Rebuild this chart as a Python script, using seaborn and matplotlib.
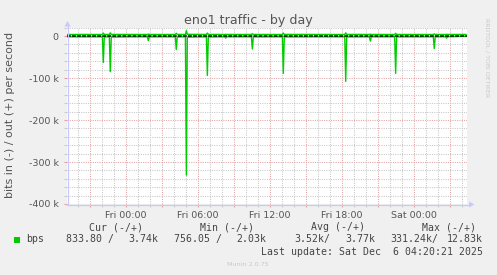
import matplotlib
matplotlib.use("Agg")
import matplotlib.pyplot as plt
import pandas as pd
import seaborn as sns
from matplotlib.ticker import MultipleLocator, FixedLocator, FixedFormatter
from matplotlib.patches import Polygon, Rectangle
from matplotlib.lines import Line2D

# ---------------- data ----------------
title = "eno1 traffic - by day"
ylabel = "bits in (-) / out (+) per second"
xtick_hours = [0, 6, 12, 18, 24]
xtick_labels = ["Fri 00:00", "Fri 06:00", "Fri 12:00", "Fri 18:00", "Sat 00:00"]
ytick_values = [0, -100000, -200000, -300000, -400000]
ytick_labels = ["0", "-100 k", "-200 k", "-300 k", "-400 k"]

# hours relative to Fri 00:00
hours = [-4.92, -3.5, -1.97, -1.89, -1.81, -1.39, -1.31, -1.23, 0.2, 1.78,
         1.86, 1.94, 3.0, 4.11, 4.19, 4.27, 4.95, 5.03, 5.11, 6.70,
         6.78, 6.86, 8.23, 8.31, 8.39, 10.45, 10.53, 10.61, 13.03, 13.11,
         13.19, 16.0, 18.23, 18.31, 18.39, 20.28, 20.36, 20.44, 22.39, 22.47,
         22.55, 25.61, 25.69, 25.77, 26.64, 26.72, 26.80, 28.33]
# input (drawn negative), bits per second
in_bps = [-2000, -2100, -2000, -63000, -2400, -2000, -85000, -2600, -2100, -2000,
          -11000, -2200, -2000, -2100, -32000, -2300, -2000, -331240, -2800, -2100,
          -94000, -2400, -2000, -5000, -2000, -2000, -31000, -2200, -2000, -89000,
          -2300, -2000, -2000, -108000, -2300, -2000, -12000, -2100, -2000, -89000,
          -2200, -2000, -30000, -2100, -1900, -5000, -1900, -834]
# output (positive), bits per second
out_bps = [3600, 3700, 3600, 7000, 3700, 3600, 7500, 3800, 3700, 3600,
           4500, 3700, 3600, 3700, 6500, 3800, 3700, 12830, 4000, 3700,
           7000, 3800, 3600, 4000, 3700, 3600, 5500, 3700, 3600, 7000,
           3800, 3700, 3600, 7500, 3800, 3700, 4200, 3700, 3600, 6500,
           3700, 3600, 5000, 3700, 3600, 4000, 3700, 3740]

legend_headers = ["Cur (-/+)", "Min (-/+)", "Avg (-/+)", "Max (-/+)"]
series_name = "bps"
legend_left = ["833.80 /", "756.05 /", "3.52k/", "331.24k/"]
legend_right = ["3.74k", "2.03k", "3.77k", "12.83k"]
last_update = "Last update: Sat Dec  6 04:20:21 2025"
footer = "Munin 2.0.75"
watermark = "RRDTOOL / TOBI OETIKER"

df = pd.DataFrame({"hours": hours, "in": in_bps, "out": out_bps})

# ---------------- figure ----------------
W, H = 497, 275
BG = "#F0F0F0"
GREEN = "#00CC00"
TXT = "#555555"
AXC = "#C8C8FF"

fig = plt.figure(figsize=(W / 100, H / 100), dpi=100, facecolor=BG)
top_px, bot_px, left_px, right_px = 27.6, 204, 67, 467
ax = fig.add_axes([left_px / W, 1 - bot_px / H, (right_px - left_px) / W,
                   (bot_px - top_px) / H])
ax.set_facecolor("white")


def P(x, y):
    return (x / W, 1 - y / H)


sns.lineplot(data=df, x="hours", y="in", ax=ax, color=GREEN, linewidth=1.0,
             estimator=None, sort=False, zorder=3)
sns.lineplot(data=df, x="hours", y="out", ax=ax, color=GREEN, linewidth=1.0,
             estimator=None, sort=False, zorder=3)
ax.axhline(0, color="black", linewidth=1.1, dashes=(2.5, 0.8), zorder=4)

ax.set_xlim(-4.917, 28.417)
ax.set_ylim(-400000, 20000)

for s in ax.spines.values():
    s.set_visible(False)

# x ticks: labels every 6h, red marks every 3h, grey every hour
ax.xaxis.set_minor_locator(MultipleLocator(1))
major_x = [h for h in range(-3, 29, 3)]
lab = {h: l for h, l in zip(xtick_hours, xtick_labels)}
ax.xaxis.set_major_locator(FixedLocator(major_x))
ax.xaxis.set_major_formatter(FixedFormatter([lab.get(h, "") for h in major_x]))

ax.yaxis.set_major_locator(FixedLocator(ytick_values))
ax.yaxis.set_major_formatter(FixedFormatter(ytick_labels))
ax.yaxis.set_minor_locator(MultipleLocator(20000))

ax.tick_params(axis="both", which="major", direction="out", length=2.2,
               width=0.8, color="#E8A0A0", labelcolor=TXT, labelsize=6.8)
ax.tick_params(axis="both", which="minor", direction="out", length=2.2,
               width=0.8, color="#CCCCCC")
ax.tick_params(axis="x", which="major", pad=2.6)
ax.tick_params(axis="y", which="major", pad=3.8)

ax.grid(which="minor", color="#C8C8C8", linewidth=0.75, dashes=(1, 1.2), zorder=1)
ax.grid(which="major", color="#E4A4A4", linewidth=0.75, dashes=(1, 1.2), zorder=1)
ax.set_axisbelow(True)
ax.set_xlabel("")
ax.set_ylabel("")

# axis lines with arrows (pixel geometry)
fig.lines.append(Line2D([P(67.5, 204)[0], P(67.5, 24)[0]], [P(67.5, 204)[1], P(67.5, 24)[1]],
                        transform=fig.transFigure, color=AXC, linewidth=0.9, zorder=5))
fig.lines.append(Line2D([P(67, 204.5)[0], P(470, 204.5)[0]], [P(67, 204.5)[1], P(470, 204.5)[1]],
                        transform=fig.transFigure, color=AXC, linewidth=0.9, zorder=5))
fig.patches.append(Polygon([P(64.5, 26.5), P(70.5, 26.5), P(67.5, 21.0)], closed=True,
                           transform=fig.transFigure, facecolor=AXC, edgecolor="none", zorder=5))
fig.patches.append(Polygon([P(469, 201.5), P(469, 207.5), P(474.5, 204.5)], closed=True,
                           transform=fig.transFigure, facecolor=AXC, edgecolor="none", zorder=5))

# texts
fig.text(*P(248, 24), title, ha="center", va="baseline", fontsize=9.1, color=TXT)
fig.text(*P(10.5, 115), ylabel, ha="center", va="center", rotation=90,
         fontsize=8.0, color=TXT)
fig.text(*P(487, 57.5), watermark, ha="center", va="center", rotation=270,
         fontsize=4.4, color="#C8C8C8")

MONO = "DejaVu Sans Mono"
LFS = 7.1
LC = "#444444"
for hdr, x in zip(legend_headers, [89.3, 200.3, 311.7, 422.7]):
    fig.text(*P(x - 0.6, 227.3), hdr, ha="left", va="center", family=MONO,
             fontsize=LFS, color=LC)
fig.patches.append(Rectangle(P(14, 242.5), 5.5 / W, 5.5 / H, transform=fig.transFigure,
                             facecolor=GREEN, edgecolor="none"))
fig.text(*P(26.2, 239.3), series_name, ha="left", va="center", family=MONO,
         fontsize=LFS, color=LC)
for t, x in zip(legend_left, [66.7, 174.7, 295.0, 391.0]):
    fig.text(*P(x - 0.6, 239.3), t, ha="left", va="center", family=MONO,
             fontsize=LFS, color=LC)
for t, x in zip(legend_right, [157.7, 265.7, 374.3, 482.3]):
    fig.text(*P(x + 0.6, 239.3), t, ha="right", va="center", family=MONO,
             fontsize=LFS, color=LC)
fig.text(*P(482.9, 251.7), last_update, ha="right", va="center", family=MONO,
         fontsize=LFS, color=LC)
fig.text(*P(247.5, 264), footer, ha="center", va="center", fontsize=4.6,
         color="#C8C8C8")

fig.savefig("out.png", dpi=100, facecolor=BG)
